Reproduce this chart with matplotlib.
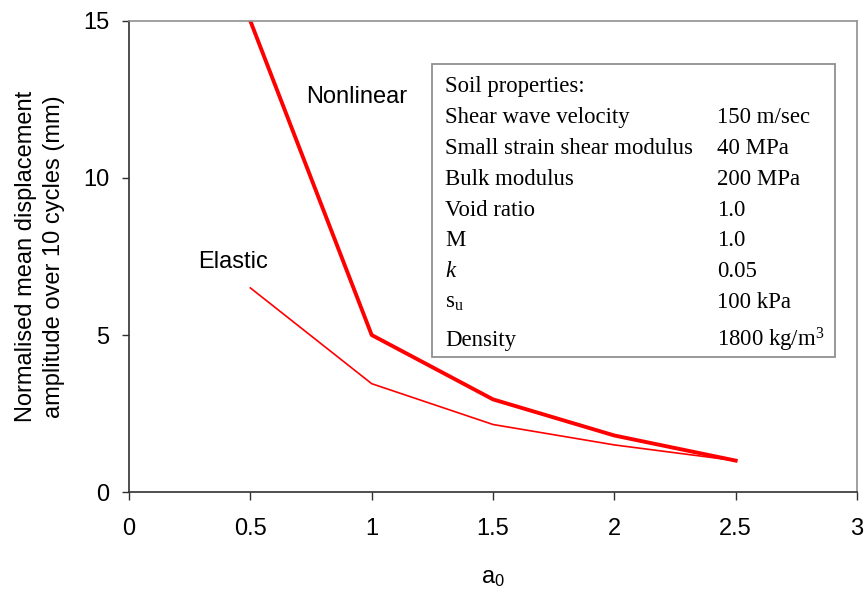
import matplotlib
matplotlib.use('Agg')
import matplotlib.pyplot as plt
from matplotlib.patches import Rectangle

plt.rcParams['font.family'] = ['Liberation Sans', 'DejaVu Sans']
plt.rcParams['mathtext.fontset'] = 'custom'
plt.rcParams['mathtext.rm'] = 'Liberation Serif'
plt.rcParams['mathtext.it'] = 'Liberation Serif:italic'
plt.rcParams['mathtext.sf'] = 'Liberation Sans'

# dimensionless frequency a0 and displacement amplitudes (mm)
a0 = [0.5, 1.0, 1.5, 2.0, 2.5]
nonlinear = [15.0, 5.0, 2.95, 1.8, 1.0]
elastic = [6.5, 3.45, 2.15, 1.5, 1.0]

# soil property table
prop_names = ['Shear wave velocity', 'Small strain shear modulus', 'Bulk modulus',
              'Void ratio', 'M', '$k$', r's$_\mathrm{u}$', 'Density']
prop_values = ['150 m/sec', '40 MPa', '200 MPa', '1.0', '1.0', '0.05',
               '100 kPa', r'1800 kg/m$^3$']

fs = 17

fig = plt.figure(figsize=(8.66, 5.93), dpi=100)
ax = fig.add_axes([0.149, 0.1703, 0.8406, 0.7943])

ax.plot(a0, nonlinear, color='#ff0000', lw=2.8)
ax.plot(a0, elastic, color='#ff0000', lw=1.2)

ax.set_xlim(0, 3)
ax.set_ylim(0, 15)
ax.set_xticks([0, 0.5, 1, 1.5, 2, 2.5, 3])
ax.set_xticklabels(['0', '0.5', '1', '1.5', '2', '2.5', '3'])
ax.set_yticks([0, 5, 10, 15])

for s in ['top', 'right']:
    ax.spines[s].set_color('#909090')
    ax.spines[s].set_linewidth(1.2)
for s in ['left', 'bottom']:
    ax.spines[s].set_color('#303030')
    ax.spines[s].set_linewidth(1.2)

ax.tick_params(axis='x', direction='out', length=6, width=1, color='#303030',
               pad=13, labelsize=fs)
ax.tick_params(axis='y', direction='out', length=5, width=1, color='#303030',
               pad=9, labelsize=fs)

ax.set_xlabel(r'$\mathsf{a}_\mathsf{0}$', fontsize=fs, labelpad=19)
ax.set_ylabel('Normalised mean displacement\namplitude over 10 cycles (mm)',
              fontsize=fs, labelpad=13, linespacing=1.35)

ax.text(0.94, 12.58, 'Nonlinear', fontsize=fs, ha='center', va='center')
ax.text(0.43, 7.32, 'Elastic', fontsize=fs, ha='center', va='center')

# property box
ax.add_patch(Rectangle((0.416, 0.287), 0.554, 0.622, transform=ax.transAxes,
                       fill=False, edgecolor='#909090', lw=1.3))

serif = ['Liberation Serif', 'DejaVu Serif']
tfs = 16.4
x_name = 0.434
x_val = 0.808
y0 = 0.849
step = 0.0655
ax.text(x_name, y0, 'Soil properties:', transform=ax.transAxes, fontsize=tfs,
        family=serif, va='baseline')
for i, (n, v) in enumerate(zip(prop_names, prop_values)):
    y = y0 - (i + 1) * step
    if i == len(prop_names) - 1:
        y -= 0.016
    ax.text(x_name, y, n, transform=ax.transAxes, fontsize=tfs, family=serif,
            va='baseline')
    ax.text(x_val, y, v, transform=ax.transAxes, fontsize=tfs, family=serif,
            va='baseline')

fig.savefig('out.png', dpi=100)
